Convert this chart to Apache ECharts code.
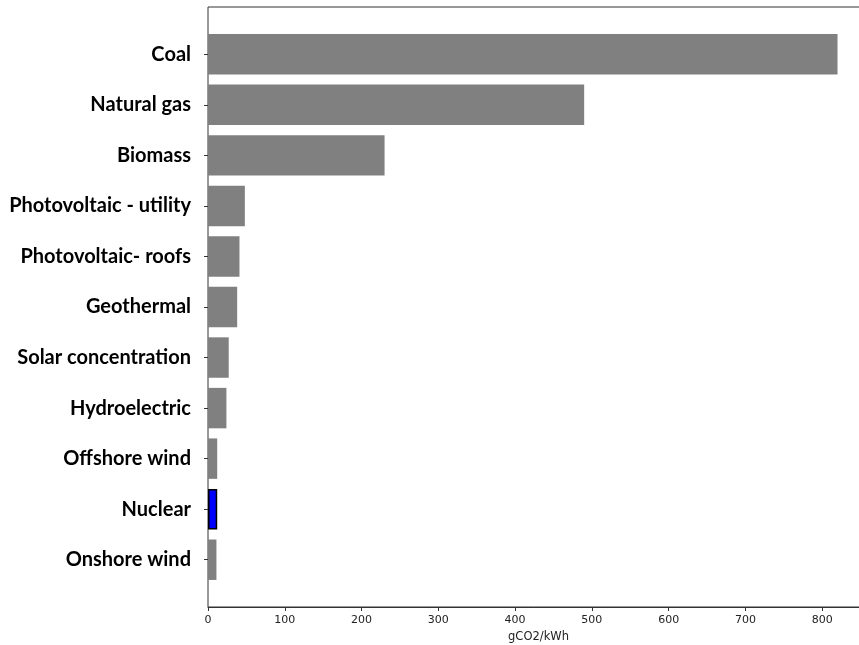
<!DOCTYPE html>
<html><head><meta charset="utf-8">
<script src="https://cdn.jsdelivr.net/npm/echarts@6/dist/echarts.min.js"></script>
<style>html,body{margin:0;padding:0;background:#fff}#c{width:859px;height:645px}</style>
</head><body><div id="c"></div>
<script>
const categories = ["Coal","Natural gas","Biomass","Photovoltaic - utility","Photovoltaic- roofs","Geothermal","Solar concentration","Hydroelectric","Offshore wind","Nuclear","Onshore wind"];
const values = [820,490,230,48,41,38,27,24,12,12,11];
const highlight = "Nuclear";
const xTicks = [0,100,200,300,400,500,600,700,800];

const chart = echarts.init(document.getElementById('c'), null, {renderer:'canvas'});
const data = values.map((v,i)=>({
  value: v,
  itemStyle: categories[i]===highlight ? {color:'#0000ff', borderColor:'#000', borderWidth:1.5} : {color:'#808080'}
}));
chart.setOption({
  animation:false,
  grid:[
    {left:208, width:661, top:7, bottom:38, outerBoundsMode:'none', containLabel:false, show:true, borderColor:'#333', borderWidth:1, backgroundColor:'transparent'},
    {left:208, width:661, top:29, bottom:60, outerBoundsMode:'none', containLabel:false}
  ],
  xAxis:[
    {gridIndex:0, type:'value', min:0, max:861, interval:100,
     axisLine:{show:true, lineStyle:{color:'#333'}}, axisTick:{show:true, length:4, lineStyle:{color:'#333'}},
     axisLabel:{color:'#222', fontSize:11, fontFamily:'DejaVu Sans', margin:8,
       formatter: v => xTicks.includes(v) ? String(v) : ''},
     splitLine:{show:false},
     name:'gCO2/kWh', nameLocation:'middle', nameGap:24, nameTextStyle:{color:'#222', fontSize:11.5, fontFamily:'DejaVu Sans'}},
    {gridIndex:1, type:'value', min:0, max:861, show:false}
  ],
  yAxis:[
    {gridIndex:0, type:'value', show:false},
    {gridIndex:1, type:'category', data:categories, inverse:true,
     axisLine:{show:false}, axisTick:{show:true, length:4, alignWithLabel:true, lineStyle:{color:'#333'}},
     axisLabel:{color:'#000', fontSize:20, fontWeight:'bold', fontFamily:'Lato', margin:17}}
  ],
  series:[{type:'bar', xAxisIndex:1, yAxisIndex:1, data:data, barCategoryGap:'20%'}]
});
</script></body></html>
